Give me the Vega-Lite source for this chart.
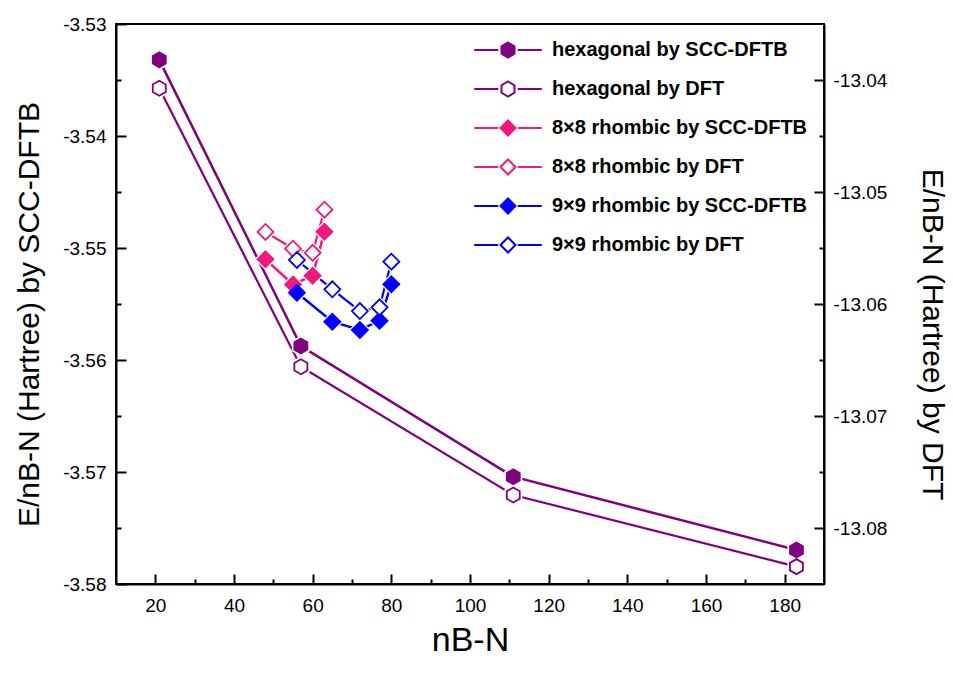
{
  "$schema": "https://vega.github.io/schema/vega-lite/v6.json",
  "width": 708,
  "height": 560,
  "autosize": {"type": "none"},
  "padding": {"left": 116, "top": 24, "right": 129, "bottom": 89},
  "background": "white",
  "config": {
    "font": "Liberation Sans",
    "view": {"stroke": "black", "strokeWidth": 2},
    "axis": {
      "grid": false,
      "domainColor": "black",
      "domainWidth": 2,
      "tickColor": "black",
      "tickWidth": 2,
      "labelFontSize": 19,
      "labelColor": "black",
      "labelFont": "Liberation Sans",
      "titleFont": "Liberation Sans",
      "titleFontSize": 30,
      "titleFontWeight": "normal",
      "titleColor": "black"
    }
  },
  "data": {
    "values": [
      {"series": "hexagonal by SCC-DFTB", "method": "SCC", "structure": "hex", "n": 21, "E": -3.5332},
      {"series": "hexagonal by SCC-DFTB", "method": "SCC", "structure": "hex", "n": 57, "E": -3.55875},
      {"series": "hexagonal by SCC-DFTB", "method": "SCC", "structure": "hex", "n": 111, "E": -3.57042},
      {"series": "hexagonal by SCC-DFTB", "method": "SCC", "structure": "hex", "n": 183, "E": -3.57696},
      {"series": "hexagonal by DFT", "method": "DFT", "structure": "hex", "n": 21, "E": -13.04074},
      {"series": "hexagonal by DFT", "method": "DFT", "structure": "hex", "n": 57, "E": -13.0656},
      {"series": "hexagonal by DFT", "method": "DFT", "structure": "hex", "n": 111, "E": -13.07705},
      {"series": "hexagonal by DFT", "method": "DFT", "structure": "hex", "n": 183, "E": -13.08345},
      {"series": "8×8 rhombic by SCC-DFTB", "method": "SCC", "structure": "dia", "n": 48, "E": -3.55101},
      {"series": "8×8 rhombic by SCC-DFTB", "method": "SCC", "structure": "dia", "n": 55, "E": -3.55326},
      {"series": "8×8 rhombic by SCC-DFTB", "method": "SCC", "structure": "dia", "n": 60, "E": -3.55247},
      {"series": "8×8 rhombic by SCC-DFTB", "method": "SCC", "structure": "dia", "n": 63, "E": -3.54854},
      {"series": "8×8 rhombic by DFT", "method": "DFT", "structure": "dia", "n": 48, "E": -13.05357},
      {"series": "8×8 rhombic by DFT", "method": "DFT", "structure": "dia", "n": 55, "E": -13.05506},
      {"series": "8×8 rhombic by DFT", "method": "DFT", "structure": "dia", "n": 60, "E": -13.05543},
      {"series": "8×8 rhombic by DFT", "method": "DFT", "structure": "dia", "n": 63, "E": -13.05158},
      {"series": "9×9 rhombic by SCC-DFTB", "method": "SCC", "structure": "dia", "n": 56, "E": -3.55399},
      {"series": "9×9 rhombic by SCC-DFTB", "method": "SCC", "structure": "dia", "n": 65, "E": -3.55658},
      {"series": "9×9 rhombic by SCC-DFTB", "method": "SCC", "structure": "dia", "n": 72, "E": -3.55732},
      {"series": "9×9 rhombic by SCC-DFTB", "method": "SCC", "structure": "dia", "n": 77, "E": -3.55649},
      {"series": "9×9 rhombic by SCC-DFTB", "method": "SCC", "structure": "dia", "n": 80, "E": -3.55324},
      {"series": "9×9 rhombic by DFT", "method": "DFT", "structure": "dia", "n": 56, "E": -13.05607},
      {"series": "9×9 rhombic by DFT", "method": "DFT", "structure": "dia", "n": 65, "E": -13.05869},
      {"series": "9×9 rhombic by DFT", "method": "DFT", "structure": "dia", "n": 72, "E": -13.06063},
      {"series": "9×9 rhombic by DFT", "method": "DFT", "structure": "dia", "n": 77, "E": -13.0603},
      {"series": "9×9 rhombic by DFT", "method": "DFT", "structure": "dia", "n": 80, "E": -13.05622}
    ]
  },
  "layer": [
    {
      "transform": [{"filter": "datum.method == 'SCC'"}],
      "mark": {"type": "line", "strokeWidth": 2.5},
      "encoding": {
        "x": {
          "field": "n", "type": "quantitative",
          "scale": {"domain": [10, 190], "nice": false, "zero": false},
          "axis": {
            "title": "nB-N",
            "titleFontSize": 34,
            "titlePadding": 8,
            "values": [20, 30, 40, 50, 60, 70, 80, 90, 100, 110, 120, 130, 140, 150, 160, 170, 180],
            "format": "d",
            "labelExpr": "datum.value % 20 == 0 ? datum.label : ''",
            "tickSize": {"condition": {"test": "datum.value % 20 == 0", "value": -10}, "value": -5},
            "labelPadding": 22
          }
        },
        "y": {
          "field": "E", "type": "quantitative",
          "scale": {"domain": [-3.58, -3.53], "nice": false, "zero": false},
          "axis": {
            "orient": "left",
            "title": "E/nB-N (Hartree) by SCC-DFTB",
            "titleY": 290,
            "values": [-3.58, -3.575, -3.57, -3.565, -3.56, -3.555, -3.55, -3.545, -3.54, -3.535, -3.53],
            "format": ".2f",
            "labelExpr": "abs(round(datum.value*1000)) % 10 == 0 ? replace(datum.label, '−', '-') : ''",
            "tickSize": {"condition": {"test": "abs(round(datum.value*1000)) % 10 == 0", "value": -10}, "value": -5},
            "labelPadding": 20,
            "titlePadding": 18
          }
        },
        "stroke": {
          "field": "series", "type": "nominal", "legend": null,
          "scale": {
            "domain": ["hexagonal by SCC-DFTB", "hexagonal by DFT", "8×8 rhombic by SCC-DFTB", "8×8 rhombic by DFT", "9×9 rhombic by SCC-DFTB", "9×9 rhombic by DFT"],
            "range": ["#800080", "#800080", "#F0197D", "#F0197D", "#0000FF", "#0000FF"]
          }
        }
      }
    },
    {
      "transform": [{"filter": "datum.method == 'DFT'"}],
      "mark": {"type": "line", "strokeWidth": 2.2},
      "encoding": {
        "x": {"field": "n", "type": "quantitative", "scale": {"domain": [10, 190], "nice": false, "zero": false}},
        "y": {
          "field": "E", "type": "quantitative",
          "scale": {"domain": [-13.085, -13.035], "nice": false, "zero": false},
          "axis": {
            "orient": "right",
            "title": "E/nB-N (Hartree) by DFT",
            "titleY": 310,
            "values": [-13.08, -13.075, -13.07, -13.065, -13.06, -13.055, -13.05, -13.045, -13.04],
            "format": ".2f",
            "labelExpr": "abs(round(datum.value*1000)) % 10 == 0 ? replace(datum.label, '−', '-') : ''",
            "tickSize": {"condition": {"test": "abs(round(datum.value*1000)) % 10 == 0", "value": -10}, "value": -5},
            "labelPadding": 19,
            "titlePadding": 30
          }
        },
        "stroke": {
          "field": "series", "type": "nominal", "legend": null,
          "scale": {
            "domain": ["hexagonal by SCC-DFTB", "hexagonal by DFT", "8×8 rhombic by SCC-DFTB", "8×8 rhombic by DFT", "9×9 rhombic by SCC-DFTB", "9×9 rhombic by DFT"],
            "range": ["#800080", "#800080", "#F0197D", "#F0197D", "#0000FF", "#0000FF"]
          }
        }
      }
    },
    {
      "transform": [{"filter": "datum.method == 'SCC' && datum.structure == 'hex'"}],
      "mark": {"type": "point", "filled": true, "opacity": 1, "color": "white", "strokeWidth": 0, "size": 441, "shape": "M0,-1L0.866,-0.5L0.866,0.5L0,1L-0.866,0.5L-0.866,-0.5Z"},
      "encoding": {
        "x": {"field": "n", "type": "quantitative", "scale": {"domain": [10, 190], "nice": false, "zero": false}},
        "y": {"field": "E", "type": "quantitative", "scale": {"domain": [-3.58, -3.53], "nice": false, "zero": false}, "axis": null}
      }
    },
    {
      "transform": [{"filter": "datum.method == 'DFT' && datum.structure == 'hex'"}],
      "mark": {"type": "point", "filled": true, "opacity": 1, "color": "white", "strokeWidth": 0, "size": 441, "shape": "M0,-1L0.866,-0.5L0.866,0.5L0,1L-0.866,0.5L-0.866,-0.5Z"},
      "encoding": {
        "x": {"field": "n", "type": "quantitative", "scale": {"domain": [10, 190], "nice": false, "zero": false}},
        "y": {"field": "E", "type": "quantitative", "scale": {"domain": [-13.085, -13.035], "nice": false, "zero": false}, "axis": null}
      }
    },
    {
      "transform": [{"filter": "datum.method == 'SCC' && datum.structure == 'dia'"}],
      "mark": {"type": "point", "filled": true, "opacity": 1, "color": "white", "strokeWidth": 0, "size": 484, "shape": "diamond"},
      "encoding": {
        "x": {"field": "n", "type": "quantitative", "scale": {"domain": [10, 190], "nice": false, "zero": false}},
        "y": {"field": "E", "type": "quantitative", "scale": {"domain": [-3.58, -3.53], "nice": false, "zero": false}, "axis": null}
      }
    },
    {
      "transform": [{"filter": "datum.method == 'DFT' && datum.structure == 'dia'"}],
      "mark": {"type": "point", "filled": true, "opacity": 1, "color": "white", "strokeWidth": 0, "size": 484, "shape": "diamond"},
      "encoding": {
        "x": {"field": "n", "type": "quantitative", "scale": {"domain": [10, 190], "nice": false, "zero": false}},
        "y": {"field": "E", "type": "quantitative", "scale": {"domain": [-13.085, -13.035], "nice": false, "zero": false}, "axis": null}
      }
    },
    {
      "transform": [{"filter": "datum.method == 'SCC' && datum.structure == 'hex'"}],
      "mark": {"type": "point", "filled": true, "opacity": 1, "strokeWidth": 1.8, "size": 225, "shape": "M0,-1L0.866,-0.5L0.866,0.5L0,1L-0.866,0.5L-0.866,-0.5Z"},
      "encoding": {
        "x": {"field": "n", "type": "quantitative", "scale": {"domain": [10, 190], "nice": false, "zero": false}},
        "y": {"field": "E", "type": "quantitative", "scale": {"domain": [-3.58, -3.53], "nice": false, "zero": false}, "axis": null},
        "fill": {"field": "series", "type": "nominal", "legend": null, "scale": {"domain": ["hexagonal by SCC-DFTB", "hexagonal by DFT", "8×8 rhombic by SCC-DFTB", "8×8 rhombic by DFT", "9×9 rhombic by SCC-DFTB", "9×9 rhombic by DFT"], "range": ["#800080", "white", "#F0197D", "white", "#0000FF", "white"]}},
        "stroke": {"field": "series", "type": "nominal", "legend": null, "scale": {"domain": ["hexagonal by SCC-DFTB", "hexagonal by DFT", "8×8 rhombic by SCC-DFTB", "8×8 rhombic by DFT", "9×9 rhombic by SCC-DFTB", "9×9 rhombic by DFT"], "range": ["#800080", "#800080", "#F0197D", "#F0197D", "#0000FF", "#0000FF"]}}
      }
    },
    {
      "transform": [{"filter": "datum.method == 'DFT' && datum.structure == 'hex'"}],
      "mark": {"type": "point", "filled": true, "opacity": 1, "strokeWidth": 1.8, "size": 225, "shape": "M0,-1L0.866,-0.5L0.866,0.5L0,1L-0.866,0.5L-0.866,-0.5Z"},
      "encoding": {
        "x": {"field": "n", "type": "quantitative", "scale": {"domain": [10, 190], "nice": false, "zero": false}},
        "y": {"field": "E", "type": "quantitative", "scale": {"domain": [-13.085, -13.035], "nice": false, "zero": false}, "axis": null},
        "fill": {"field": "series", "type": "nominal", "legend": null, "scale": {"domain": ["hexagonal by SCC-DFTB", "hexagonal by DFT", "8×8 rhombic by SCC-DFTB", "8×8 rhombic by DFT", "9×9 rhombic by SCC-DFTB", "9×9 rhombic by DFT"], "range": ["#800080", "white", "#F0197D", "white", "#0000FF", "white"]}},
        "stroke": {"field": "series", "type": "nominal", "legend": null, "scale": {"domain": ["hexagonal by SCC-DFTB", "hexagonal by DFT", "8×8 rhombic by SCC-DFTB", "8×8 rhombic by DFT", "9×9 rhombic by SCC-DFTB", "9×9 rhombic by DFT"], "range": ["#800080", "#800080", "#F0197D", "#F0197D", "#0000FF", "#0000FF"]}}
      }
    },
    {
      "transform": [{"filter": "datum.method == 'SCC' && datum.structure == 'dia'"}],
      "mark": {"type": "point", "filled": true, "opacity": 1, "strokeWidth": 1.8, "size": 256, "shape": "diamond"},
      "encoding": {
        "x": {"field": "n", "type": "quantitative", "scale": {"domain": [10, 190], "nice": false, "zero": false}},
        "y": {"field": "E", "type": "quantitative", "scale": {"domain": [-3.58, -3.53], "nice": false, "zero": false}, "axis": null},
        "fill": {"field": "series", "type": "nominal", "legend": null, "scale": {"domain": ["hexagonal by SCC-DFTB", "hexagonal by DFT", "8×8 rhombic by SCC-DFTB", "8×8 rhombic by DFT", "9×9 rhombic by SCC-DFTB", "9×9 rhombic by DFT"], "range": ["#800080", "white", "#F0197D", "white", "#0000FF", "white"]}},
        "stroke": {"field": "series", "type": "nominal", "legend": null, "scale": {"domain": ["hexagonal by SCC-DFTB", "hexagonal by DFT", "8×8 rhombic by SCC-DFTB", "8×8 rhombic by DFT", "9×9 rhombic by SCC-DFTB", "9×9 rhombic by DFT"], "range": ["#800080", "#800080", "#F0197D", "#F0197D", "#0000FF", "#0000FF"]}}
      }
    },
    {
      "transform": [{"filter": "datum.method == 'DFT' && datum.structure == 'dia'"}],
      "mark": {"type": "point", "filled": true, "opacity": 1, "strokeWidth": 1.8, "size": 256, "shape": "diamond"},
      "encoding": {
        "x": {"field": "n", "type": "quantitative", "scale": {"domain": [10, 190], "nice": false, "zero": false}},
        "y": {"field": "E", "type": "quantitative", "scale": {"domain": [-13.085, -13.035], "nice": false, "zero": false}, "axis": null},
        "fill": {"field": "series", "type": "nominal", "legend": null, "scale": {"domain": ["hexagonal by SCC-DFTB", "hexagonal by DFT", "8×8 rhombic by SCC-DFTB", "8×8 rhombic by DFT", "9×9 rhombic by SCC-DFTB", "9×9 rhombic by DFT"], "range": ["#800080", "white", "#F0197D", "white", "#0000FF", "white"]}},
        "stroke": {"field": "series", "type": "nominal", "legend": null, "scale": {"domain": ["hexagonal by SCC-DFTB", "hexagonal by DFT", "8×8 rhombic by SCC-DFTB", "8×8 rhombic by DFT", "9×9 rhombic by SCC-DFTB", "9×9 rhombic by DFT"], "range": ["#800080", "#800080", "#F0197D", "#F0197D", "#0000FF", "#0000FF"]}}
      }
    },
    {
      "transform": [{"filter": "false"}],
      "mark": {"type": "point", "filled": true, "opacity": 1, "strokeWidth": 2, "size": 225},
      "encoding": {
        "x": {"field": "n", "type": "quantitative", "scale": {"domain": [10, 190], "nice": false, "zero": false}},
        "y": {"field": "E", "type": "quantitative", "scale": {"domain": [-3.58, -3.53], "nice": false, "zero": false}, "axis": null},
        "shape": {
          "field": "series", "type": "nominal",
          "scale": {
            "domain": ["hexagonal by SCC-DFTB", "hexagonal by DFT", "8×8 rhombic by SCC-DFTB", "8×8 rhombic by DFT", "9×9 rhombic by SCC-DFTB", "9×9 rhombic by DFT"],
            "range": [
              "M-4.5,0L-1.3,0M1.3,0L4.5,0M0,-1L0.866,-0.5L0.866,0.5L0,1L-0.866,0.5L-0.866,-0.5Z",
              "M-4.5,0L-1.3,0M1.3,0L4.5,0M0,-1L0.866,-0.5L0.866,0.5L0,1L-0.866,0.5L-0.866,-0.5Z",
              "M-4.5,0L-1.3,0M1.3,0L4.5,0M-1,0L0,-1L1,0L0,1Z",
              "M-4.5,0L-1.3,0M1.3,0L4.5,0M-1,0L0,-1L1,0L0,1Z",
              "M-4.5,0L-1.3,0M1.3,0L4.5,0M-1,0L0,-1L1,0L0,1Z",
              "M-4.5,0L-1.3,0M1.3,0L4.5,0M-1,0L0,-1L1,0L0,1Z"
            ]
          },
          "legend": {"title": null, "orient": "top-right", "offset": 16, "padding": 0, "labelFontSize": 20, "labelFontWeight": "bold", "labelFont": "Liberation Sans", "labelColor": "black", "symbolSize": 225, "symbolStrokeWidth": 2, "labelOffset": 34, "rowPadding": 15, "labelLimit": 0}
        },
        "fill": {
          "field": "series", "type": "nominal",
          "scale": {"domain": ["hexagonal by SCC-DFTB", "hexagonal by DFT", "8×8 rhombic by SCC-DFTB", "8×8 rhombic by DFT", "9×9 rhombic by SCC-DFTB", "9×9 rhombic by DFT"], "range": ["#800080", "white", "#F0197D", "white", "#0000FF", "white"]},
          "legend": {"title": null, "orient": "top-right", "offset": 16, "padding": 0, "labelFontSize": 20, "labelFontWeight": "bold", "labelFont": "Liberation Sans", "labelColor": "black", "symbolSize": 225, "symbolStrokeWidth": 2, "labelOffset": 34, "rowPadding": 15, "labelLimit": 0}
        },
        "stroke": {
          "field": "series", "type": "nominal",
          "scale": {"domain": ["hexagonal by SCC-DFTB", "hexagonal by DFT", "8×8 rhombic by SCC-DFTB", "8×8 rhombic by DFT", "9×9 rhombic by SCC-DFTB", "9×9 rhombic by DFT"], "range": ["#800080", "#800080", "#F0197D", "#F0197D", "#0000FF", "#0000FF"]},
          "legend": {"title": null, "orient": "top-right", "offset": 16, "padding": 0, "labelFontSize": 20, "labelFontWeight": "bold", "labelFont": "Liberation Sans", "labelColor": "black", "symbolSize": 225, "symbolStrokeWidth": 2, "labelOffset": 34, "rowPadding": 15, "labelLimit": 0}
        }
      }
    }
  ],
  "resolve": {"scale": {"y": "independent", "fill": "independent", "stroke": "independent", "shape": "independent"}}
}
